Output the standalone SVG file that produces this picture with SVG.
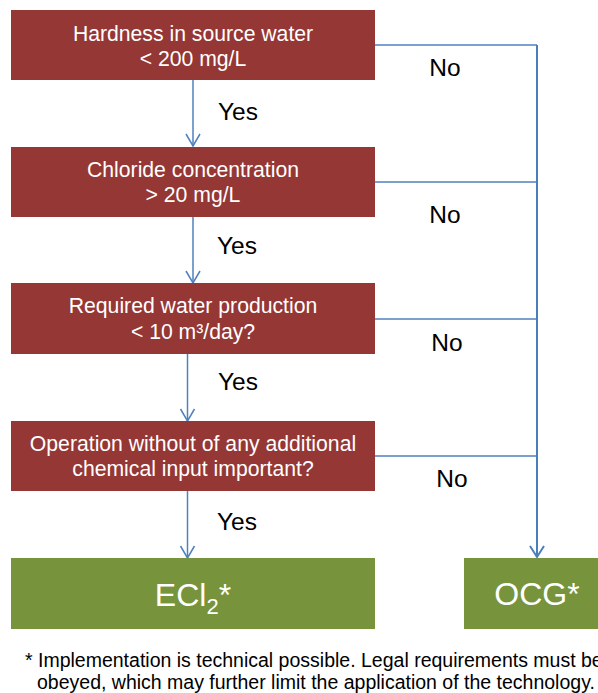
<svg xmlns="http://www.w3.org/2000/svg" width="598" height="693" viewBox="0 0 598 693">
<defs>
<style>
.q{fill:#953735}
.r{fill:#77933C}
.t{font-family:"Liberation Sans",Arial,sans-serif;fill:#fff;font-size:21.2px;text-anchor:middle}
.big{font-family:"Liberation Sans",Arial,sans-serif;fill:#fff;font-size:32px;text-anchor:middle}
.lbl{font-family:"Liberation Sans",Arial,sans-serif;fill:#000;font-size:24.5px;text-anchor:middle}
.fn{font-family:"Liberation Sans",Arial,sans-serif;fill:#000;font-size:19.5px}
.c{fill:none;stroke:#4F81BD;stroke-width:1.5}
.v{fill:none;stroke:#4A7EBB;stroke-width:2}
</style>
</defs>
<g id="connectors">
<line class="c" x1="193" y1="80" x2="193" y2="146"/>
<line class="c" x1="193" y1="217" x2="193" y2="283"/>
<line class="c" x1="187.5" y1="354" x2="187.5" y2="421"/>
<line class="c" x1="187.5" y1="491" x2="187.5" y2="558"/>
<path class="c" d="M375,45 H537"/>
<path class="c" d="M375,182 H537"/>
<path class="c" d="M375,319 H537"/>
<path class="c" d="M375,456 H537"/>
<path class="v" d="M537,45 V557"/>
<path d="M530,546 L537,557 L544,546" fill="none" stroke="#4A7EBB" stroke-width="2"/>
<path d="M186,134 L193,146 L200,134" class="c"/>
<path d="M186,271 L193,283 L200,271" class="c"/>
<path d="M180.5,409 L187.5,421 L194.5,409" class="c"/>
<path d="M180.5,546 L187.5,558 L194.5,546" class="c"/>
</g>
<g id="labels">
<text class="lbl" x="445" y="76">No</text>
<text class="lbl" x="445" y="223">No</text>
<text class="lbl" x="447" y="351">No</text>
<text class="lbl" x="452" y="487">No</text>
<text class="lbl" x="238" y="120">Yes</text>
<text class="lbl" x="237" y="254">Yes</text>
<text class="lbl" x="238" y="390">Yes</text>
<text class="lbl" x="237" y="530">Yes</text>
</g>
<g id="n1">
<rect class="q" x="11" y="10" width="364" height="70"/>
<text class="t" x="193" y="41">Hardness in source water</text>
<text class="t" x="193" y="66">&lt; 200 mg/L</text>
</g>
<g id="n2">
<rect class="q" x="11" y="147" width="364" height="70"/>
<text class="t" x="193" y="177">Chloride concentration</text>
<text class="t" x="193" y="202">&gt; 20 mg/L</text>
</g>
<g id="n3">
<rect class="q" x="11" y="283" width="364" height="71"/>
<text class="t" x="193" y="313">Required water production</text>
<text class="t" x="193" y="339">&lt; 10 m³/day?</text>
</g>
<g id="n4">
<rect class="q" x="11" y="421" width="364" height="70"/>
<text class="t" x="193" y="451">Operation without of any additional</text>
<text class="t" x="193" y="476">chemical input important?</text>
</g>
<g id="n5">
<rect class="r" x="11" y="558" width="364" height="71"/>
<text class="big" x="193" y="606">ECl<tspan font-size="22" dy="8">2</tspan><tspan dy="-8">*</tspan></text>
</g>
<g id="n6">
<rect class="r" x="464" y="558" width="134" height="71"/>
<text class="big" x="537" y="605">OCG*</text>
</g>
<g id="footnote">
<text class="fn" x="25" y="667">* Implementation is technical possible. Legal requirements must be</text>
<text class="fn" x="37" y="689">obeyed, which may further limit the application of the technology.</text>
</g>
</svg>
